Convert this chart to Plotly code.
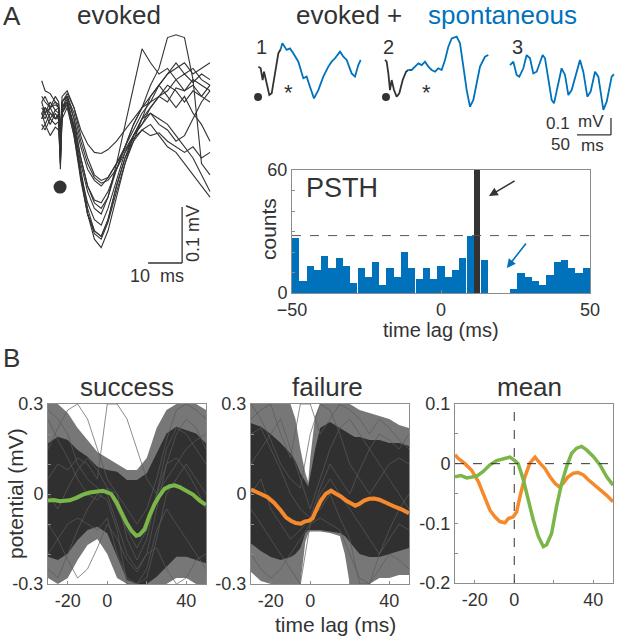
import plotly.graph_objects as go

# ---------------------------------------------------------------
# constants
# ---------------------------------------------------------------
W, H = 618, 640
FONT = "Liberation Sans, Arial, sans-serif"
INK = "#333333"
BLUE = "#0072bc"
GREEN = "#7ab648"
ORANGE = "#f7892d"
FRAME = "#8c8c8c"

# ---------------------------------------------------------------
# data, panel A: evoked sweeps (ms, mV)
# ---------------------------------------------------------------
evoked_t = [0.5, 1.5, 3, 4.5, 5.5, 6, 6.5, 8, 10, 12, 14, 16, 18, 20, 22.5, 25,
            27.5, 30, 32.5, 35, 37.5, 40, 42.5, 45, 47.5, 50]
evoked_sweeps = [
  [0.02, 0.03, 0.01, 0.03, 0.02, -0.07, 0.03, 0.05, 0.0, -0.08, -0.15, -0.195, -0.21, -0.18, -0.12, -0.06, -0.01, 0.02, 0.04, 0.06, 0.07, 0.09, 0.07, 0.08, 0.06, 0.05],
  [0.03, 0.02, 0.04, 0.02, 0.03, -0.05, 0.04, 0.055, 0.0, -0.07, -0.14, -0.18, -0.19, -0.16, -0.1, -0.05, -0.02, 0.0, 0.01, -0.01, -0.03, -0.04, -0.06, -0.08, -0.1, -0.12],
  [0.05, 0.06, 0.04, 0.06, 0.05, 0.0, 0.06, 0.07, 0.04, 0.0, -0.025, -0.04, -0.042, -0.035, -0.02, 0.0, 0.02, 0.04, 0.05, 0.06, 0.05, 0.075, 0.07, 0.09, 0.08, 0.07],
  [0.088, 0.07, 0.065, 0.05, 0.045, -0.03, 0.04, 0.05, 0.01, -0.05, -0.1, -0.125, -0.13, -0.11, -0.07, -0.03, 0.01, 0.04, 0.08, 0.11, 0.165, 0.17, 0.165, 0.09, -0.06, -0.08],
  [0.03, 0.04, 0.02, 0.035, 0.03, -0.04, 0.04, 0.05, 0.005, -0.06, -0.11, -0.14, -0.15, -0.12, -0.06, 0.01, 0.08, 0.145, 0.12, 0.1, 0.11, 0.09, 0.1, 0.085, 0.1, 0.09],
  [0.01, 0.0, 0.02, 0.01, 0.015, -0.06, 0.03, 0.045, -0.01, -0.08, -0.13, -0.16, -0.17, -0.14, -0.09, -0.04, -0.01, 0.01, 0.03, 0.02, 0.01, -0.01, -0.03, -0.05, -0.08, -0.11],
  [0.04, 0.03, 0.05, 0.035, 0.04, -0.02, 0.05, 0.06, 0.02, -0.03, -0.07, -0.09, -0.1, -0.085, -0.06, -0.03, 0.0, 0.03, 0.05, 0.08, 0.1, 0.11, 0.12, 0.1, 0.11, 0.12],
  [0.0, 0.01, -0.01, 0.005, 0.0, -0.06, 0.02, 0.04, -0.01, -0.09, -0.15, -0.18, -0.19, -0.16, -0.1, -0.05, -0.01, 0.01, 0.04, 0.06, 0.08, 0.07, 0.05, 0.07, 0.06, 0.08],
  [0.02, 0.04, 0.03, 0.02, 0.025, -0.03, 0.04, 0.06, 0.03, -0.02, -0.06, -0.085, -0.095, -0.09, -0.07, -0.04, -0.015, 0.0, -0.01, -0.005, -0.02, -0.03, -0.04, -0.03, -0.05, -0.04],
  [0.05, 0.03, 0.04, 0.045, 0.04, -0.03, 0.05, 0.06, 0.02, -0.05, -0.1, -0.13, -0.14, -0.12, -0.07, -0.03, 0.01, 0.04, 0.06, 0.08, 0.06, 0.04, 0.06, 0.03, 0.01, -0.02],
  [0.03, 0.01, 0.03, 0.02, 0.02, -0.05, 0.035, 0.05, 0.0, -0.085, -0.15, -0.185, -0.195, -0.165, -0.11, -0.06, -0.02, 0.02, 0.06, 0.08, 0.1, 0.12, 0.1, 0.11, 0.09, 0.08],
  [0.06, 0.05, 0.04, 0.05, 0.04, -0.01, 0.05, 0.065, 0.04, -0.01, -0.05, -0.08, -0.09, -0.085, -0.06, -0.035, -0.01, 0.02, 0.03, 0.01, 0.0, -0.02, -0.01, 0.02, 0.05, 0.07],
]
stim_t, stim_v = 5.9, -0.102

# evoked + spontaneous examples (ms, mV)
ex1_black_t = [2, 5.4, 8.3, 10.3, 14.2, 18.1, 21.6, 26.5, 31.4, 34.8]
ex1_black_v = [0.02, 0.01, -0.059, -0.01, -0.078, -0.147, -0.137, -0.02, 0.098, 0.122]
ex1_blue_t = [34.8, 37.3, 43.6, 48.5, 53.4, 60.8, 68.1, 73.0, 77.9, 83.8, 90.2, 97.5,
              104.9, 109.8, 114.7, 122.1, 127.0, 131.9, 139.2, 144.1, 149.0, 152.5]
ex1_blue_v = [0.122, 0.157, 0.118, 0.127, 0.098, 0.049, -0.049, -0.039, -0.098, -0.167, -0.118, -0.039,
              0.02, 0.049, 0.069, 0.108, 0.078, 0.059, -0.02, -0.039, 0.029, 0.059]
ex2_black_t = [1.5, 3.9, 6.4, 8.8, 11.3, 14.7, 18.6, 22.5, 27.5, 32.4, 35.8]
ex2_black_v = [0.059, 0.049, -0.02, -0.118, -0.059, -0.118, -0.157, -0.137, -0.059, -0.01, 0.0]
ex2_blue_t = [35.8, 40.7, 45.6, 50.5, 55.4, 60.3, 65.2, 70.1, 75.0, 79.9, 84.8, 89.7, 94.6,
              99.5, 106.9, 111.8, 116.7, 121.6, 126.5, 131.4, 136.3, 141.2, 148.5, 153.4]
ex2_blue_v = [0.0, 0.0, 0.02, 0.039, 0.029, 0.049, 0.02, 0.0, -0.01, 0.01, 0.0, 0.059, 0.137,
              0.186, 0.196, 0.157, 0.02, -0.118, -0.216, -0.176, -0.078, 0.02, 0.078, 0.088]
ex3_t = [0, 4.9, 9.8, 13.7, 19.6, 24.5, 29.4, 34.3, 39.2, 44.1, 48.0, 51.5, 56.4, 61.3, 64.7, 71.0,
         75.9, 80.9, 85.8, 90.7, 98.0, 102.9, 107.8, 113.7, 118.6, 125.0, 129.9, 137.3, 142.2, 149.5, 152.9]
ex3_v = [0.029, 0.049, -0.029, -0.039, 0.01, 0.088, 0.069, -0.02, -0.01, 0.049, 0.088, 0.069, -0.049, -0.176, -0.196, -0.069,
         0.01, -0.029, -0.147, -0.118, -0.01, 0.059, -0.01, -0.157, -0.127, -0.01, -0.039, -0.235, -0.186, -0.039, -0.025]

# PSTH
psth_lag = [-48.8, -46.3, -43.9, -41.5, -39.0, -36.6, -34.1, -31.7, -29.3, -26.8, -24.4, -22.0, -19.5, -17.1,
            -14.6, -12.2, -9.8, -7.3, -4.9, -2.4, 0.0, 2.4, 4.9, 7.3, 9.8, 12.2, 14.6, 17.1, 19.5, 22.0,
            24.4, 26.8, 29.3, 31.7, 34.1, 36.6, 39.0, 41.5, 43.9, 46.3, 48.8]
psth_counts = [27, 6, 13, 11, 18, 12, 17, 13, 5, 12, 8, 15, 4, 12, 8, 20, 12, 7, 12, 7, 13, 8, 11, 17,
               28, 0, 16, 0, 0, 0, 2, 10, 8, 6, 4, 9, 15, 16, 12, 10, 12]
peak_lag, peak_count = [12.2], [60]
psth_threshold = 28

# ---------------------------------------------------------------
# data, panel B (ms, mV)
# ---------------------------------------------------------------
sweep_t = [-30, -25, -20, -15, -10, -5, 0, 5, 10, 15, 20, 25, 30, 35, 40, 45, 50]
success_core_hi = [0.169, 0.191, 0.18, 0.147, 0.124, 0.091, 0.08, 0.074, 0.047, 0.047, 0.069, 0.136, 0.202, 0.224, 0.213, 0.202, 0.169]
success_core_lo = [-0.209, -0.22, -0.198, -0.153, -0.12, -0.109, -0.131, -0.209, -0.287, -0.3, -0.3, -0.276, -0.242, -0.209, -0.209, -0.22, -0.231]
success_edge_hi = [0.3, 0.3, 0.27, 0.22, 0.18, 0.14, 0.12, 0.1, 0.08, 0.08, 0.12, 0.22, 0.28, 0.3, 0.3, 0.3, 0.28]
success_edge_lo = [-0.28, -0.3, -0.28, -0.22, -0.17, -0.15, -0.2, -0.28, -0.3, -0.3, -0.3, -0.3, -0.3, -0.28, -0.28, -0.3, -0.3]
success_sweeps = [
  [0.28, 0.25, 0.2, 0.1, 0.05, 0.02, 0.0, -0.1, -0.2, -0.25, -0.2, -0.05, 0.1, 0.2, 0.25, 0.22, 0.15],
  [-0.25, -0.28, -0.2, -0.12, -0.05, 0.0, -0.02, -0.12, -0.3, -0.3, -0.28, -0.15, 0.0, 0.05, 0.1, 0.05, 0.0],
  [0.15, 0.22, 0.28, 0.3, 0.25, 0.15, 0.05, 0.0, -0.05, -0.1, -0.05, 0.05, 0.18, 0.28, 0.3, 0.28, 0.25],
  [-0.1, -0.15, -0.22, -0.28, -0.25, -0.18, -0.1, -0.15, -0.22, -0.26, -0.2, -0.18, -0.25, -0.3, -0.28, -0.22, -0.2],
  [0.05, 0.1, 0.08, 0.12, 0.1, 0.05, 0.3, 0.3, 0.25, 0.15, 0.05, 0.0, 0.05, 0.1, 0.15, 0.18, 0.2],
  [0.0, -0.05, 0.02, 0.08, 0.12, 0.08, 0.02, -0.05, -0.12, -0.18, -0.12, 0.0, 0.1, 0.12, 0.08, 0.02, -0.05],
  [0.25, 0.18, 0.12, 0.05, 0.0, -0.02, 0.02, 0.0, -0.15, -0.22, -0.15, 0.0, 0.15, 0.22, 0.2, 0.15, 0.1],
  [-0.2, -0.15, -0.1, -0.08, -0.1, -0.12, -0.08, -0.2, -0.28, -0.3, -0.25, -0.12, -0.05, -0.1, -0.15, -0.2, -0.25],
]

fail_t = [-30, -25, -20, -15, -10, -7.5, -5, -2.5, -1, 0, 2.5, 5, 10, 15, 17.5, 20, 22.5, 25, 30, 35, 40, 45, 50]
failure_core_hi = [0.236, 0.224, 0.2, 0.17, 0.135, 0.11, 0.07, 0.04, 0.025, 0.06, 0.15, 0.22, 0.24, 0.22, 0.21, 0.2, 0.19, 0.19, 0.18, 0.18, 0.17, 0.17, 0.16]
failure_core_lo = [-0.165, -0.19, -0.21, -0.22, -0.21, -0.2, -0.18, -0.13, -0.12, -0.12, -0.12, -0.12, -0.125, -0.13, -0.14, -0.16, -0.18, -0.2, -0.21, -0.21, -0.2, -0.19, -0.18]
failure_edge_hi = [0.3, 0.3, 0.3, 0.3, 0.3, 0.25, 0.15, 0.07, 0.04, 0.12, 0.26, 0.3, 0.3, 0.3, 0.3, 0.3, 0.29, 0.28, 0.27, 0.26, 0.25, 0.23, 0.22]
failure_edge_lo = [-0.26, -0.29, -0.3, -0.3, -0.3, -0.3, -0.3, -0.16, -0.13, -0.125, -0.125, -0.125, -0.13, -0.14, -0.2, -0.3, -0.3, -0.3, -0.3, -0.28, -0.28, -0.27, -0.27]
failure_sweeps = [
  [0.3, 0.25, 0.18, 0.1, 0.05, 0.02, 0.2, 0.3, 0.28, 0.2, 0.1, 0.05, 0.0, 0.05, 0.1, 0.12, 0.1],
  [-0.2, -0.25, -0.28, -0.25, -0.2, -0.15, -0.1, -0.08, -0.1, -0.12, -0.2, -0.28, -0.3, -0.25, -0.2, -0.22, -0.25],
  [0.1, 0.15, 0.2, 0.25, 0.15, 0.05, -0.05, 0.05, 0.15, 0.22, 0.25, 0.2, 0.15, 0.1, 0.05, 0.0, -0.05],
  [-0.05, -0.1, -0.15, -0.2, -0.25, -0.3, -0.1, 0.0, 0.05, 0.0, -0.05, -0.1, -0.15, -0.2, -0.15, -0.1, -0.12],
  [0.2, 0.22, 0.15, 0.08, 0.0, -0.05, -0.08, 0.02, 0.1, 0.05, 0.0, 0.08, 0.15, 0.2, 0.18, 0.15, 0.2],
  [0.0, 0.05, -0.05, -0.1, -0.15, -0.12, -0.08, -0.05, 0.0, -0.08, -0.15, -0.3, -0.3, -0.2, -0.12, -0.05, 0.0],
  [0.25, 0.28, 0.3, 0.2, 0.12, 0.3, 0.3, 0.2, 0.25, 0.3, 0.28, 0.25, 0.2, 0.25, 0.22, 0.18, 0.15],
]

success_mean_t = [-30, -27, -24, -19, -15.7, -12.3, -8.9, -3.9, -2.2, 0.3, 2, 4.6, 7.1, 9.6, 12.2, 14.7, 16.4,
                  18.9, 21.4, 24, 26.5, 29, 31.6, 34.1, 36.6, 40, 43.4, 46.8, 50]
success_mean_v = [-0.022, -0.02, -0.024, -0.021, -0.013, -0.002, 0.005, 0.009, 0.011, 0.005, 0.0, -0.027, -0.061,
                  -0.094, -0.122, -0.139, -0.136, -0.117, -0.072, -0.033, -0.005, 0.017, 0.026, 0.029, 0.023,
                  0.012, -0.002, -0.022, -0.036]
failure_mean_t = [-30, -28.4, -25, -21.6, -18.2, -14.9, -12.3, -9.8, -7.3, -4.7, -3, -0.5, 1.2, 2.9, 5.4, 7.9, 10.5,
                  13, 15.5, 18.1, 20.6, 22.8, 24.8, 27.3, 29.9, 32.4, 35, 37.5, 40.9, 43.4, 46.8, 50]
failure_mean_v = [0.015, 0.009, 0.0, -0.011, -0.03, -0.055, -0.078, -0.089, -0.097, -0.099, -0.092, -0.089, -0.081,
                  -0.055, -0.022, 0.001, 0.011, 0.001, -0.008, -0.022, -0.033, -0.039, -0.033, -0.022, -0.016,
                  -0.015, -0.019, -0.027, -0.036, -0.044, -0.053, -0.064]


# ---------------------------------------------------------------
# helpers (pixel positions -> paper fractions)
# ---------------------------------------------------------------
def xdom(a, b):
  return [a / W, b / W]

def ydom(top, bottom):
  return [1 - bottom / H, 1 - top / H]

def text(s, px, py, size, color=INK, angle=0, xanchor='center'):
  return dict(text=s, x=px / W, y=1 - py / H, xref='paper', yref='paper', showarrow=False,
              font=dict(family=FONT, size=size, color=color), textangle=angle,
              xanchor=xanchor, yanchor='middle')

def line(xa, ya, x, y, color, width, dash=None):
  return go.Scatter(x=x, y=y, xaxis=xa, yaxis=ya, mode='lines', hoverinfo='skip',
                    line=dict(color=color, width=width, dash=dash))

def band(xa, ya, t, hi, lo, color):
  return [go.Scatter(x=t, y=hi, xaxis=xa, yaxis=ya, mode='lines', line=dict(width=0), hoverinfo='skip'),
          go.Scatter(x=t, y=lo, xaxis=xa, yaxis=ya, mode='lines', line=dict(width=0), hoverinfo='skip',
                     fill='tonexty', fillcolor=color)]

fig = go.Figure()

# evoked sweeps
for sweep in evoked_sweeps:
  fig.add_trace(line('x', 'y', evoked_t, sweep, INK, 1.1))
fig.add_trace(go.Scatter(x=[stim_t], y=[stim_v], xaxis='x', yaxis='y', mode='markers',
                         marker=dict(color=INK, size=13)))

# three examples
fig.add_trace(line('x2', 'y2', ex1_black_t, ex1_black_v, INK, 1.8))
fig.add_trace(line('x2', 'y2', ex1_blue_t, ex1_blue_v, BLUE, 1.8))
fig.add_trace(line('x3', 'y3', ex2_black_t, ex2_black_v, INK, 1.8))
fig.add_trace(line('x3', 'y3', ex2_blue_t, ex2_blue_v, BLUE, 1.8))
fig.add_trace(line('x4', 'y4', ex3_t, ex3_v, BLUE, 1.8))
fig.add_trace(go.Scatter(x=[1.5], y=[-0.159], xaxis='x2', yaxis='y2', mode='markers', marker=dict(color=INK, size=8)))
fig.add_trace(go.Scatter(x=[2.9], y=[-0.159], xaxis='x3', yaxis='y3', mode='markers', marker=dict(color=INK, size=8)))

# PSTH
fig.add_trace(go.Bar(x=psth_lag, y=psth_counts, xaxis='x5', yaxis='y5', width=2.44,
                     marker=dict(color=BLUE, line=dict(width=0))))
fig.add_trace(go.Bar(x=peak_lag, y=peak_count, xaxis='x5', yaxis='y5', width=2.0,
                     marker=dict(color=INK, line=dict(width=0))))

# success / failure clouds
for xa, ya, t, ehi, elo, chi, clo, sweeps, mt, mv, col in [
    ('x6', 'y6', sweep_t, success_edge_hi, success_edge_lo, success_core_hi, success_core_lo,
     success_sweeps, success_mean_t, success_mean_v, GREEN),
    ('x7', 'y7', fail_t, failure_edge_hi, failure_edge_lo, failure_core_hi, failure_core_lo,
     failure_sweeps, failure_mean_t, failure_mean_v, ORANGE)]:
  for tr in band(xa, ya, t, ehi, elo, 'rgba(55,55,55,0.68)'):
    fig.add_trace(tr)
  for tr in band(xa, ya, t, chi, clo, 'rgba(45,45,45,0.96)'):
    fig.add_trace(tr)
  for sweep in sweeps:
    fig.add_trace(line(xa, ya, sweep_t, sweep, '#5a5a5a', 0.7))
  fig.add_trace(line(xa, ya, mt, mv, col, 4))

# mean
fig.add_trace(line('x8', 'y8', failure_mean_t, failure_mean_v, ORANGE, 3.5))
fig.add_trace(line('x8', 'y8', success_mean_t, success_mean_v, GREEN, 3.5))

# ---------------------------------------------------------------
# axes
# ---------------------------------------------------------------
hidden = dict(visible=False, showgrid=False, zeroline=False, fixedrange=True, automargin=False)
tickfont = dict(family=FONT, size=18, color=INK)
boxed = dict(showline=True, mirror=True, linecolor=FRAME, linewidth=1, showgrid=False, zeroline=False,
             ticks='inside', ticklen=3, tickcolor=FRAME, tickfont=tickfont, automargin=False)

layout = dict(
  template='none',
  width=W, height=H, margin=dict(l=0, r=0, t=0, b=0, pad=0, autoexpand=False),
  paper_bgcolor='white', plot_bgcolor='rgba(0,0,0,0)', showlegend=False,
  barmode='overlay', bargap=0,
  xaxis=dict(hidden, domain=xdom(36, 220), range=[-4 / 3.4, 180 / 3.4], anchor='y'),
  yaxis=dict(hidden, domain=ydom(25, 285), range=[-155 / 560, 105 / 560], anchor='x'),
  xaxis2=dict(hidden, domain=xdom(250, 372), range=[-7 / 0.68, 115 / 0.68], anchor='y2'),
  yaxis2=dict(hidden, domain=ydom(30, 140), range=[-70 / 170, 40 / 170], anchor='x2'),
  xaxis3=dict(hidden, domain=xdom(378, 500), range=[-6 / 0.68, 116 / 0.68], anchor='y3'),
  yaxis3=dict(hidden, domain=ydom(30, 140), range=[-70 / 170, 40 / 170], anchor='x3'),
  xaxis4=dict(hidden, domain=xdom(503, 617), range=[-7 / 0.68, 107 / 0.68], anchor='y4'),
  yaxis4=dict(hidden, domain=ydom(30, 140), range=[-70 / 170, 40 / 170], anchor='x4'),
  xaxis5=dict(boxed, domain=xdom(292, 590), range=[-50, 50], anchor='y5', tickvals=[-50, 0, 50]),
  yaxis5=dict(boxed, domain=ydom(170, 293), range=[0, 60], anchor='x5',
              tickvals=[0, 10, 20, 30, 40, 50, 60], ticktext=['0', '', '', '', '', '', '60']),
)
for i, (x0, x1) in zip([6, 7], [(48, 206), (251, 409)]):
  layout['xaxis%d' % i] = dict(boxed, domain=xdom(x0, x1), range=[-30, 50], anchor='y%d' % i,
                               tickvals=[-20, 0, 20, 40], ticktext=['-20', '0', '', '40'])
  layout['yaxis%d' % i] = dict(boxed, domain=ydom(404, 584), range=[-0.3, 0.3], anchor='x%d' % i,
                               tickvals=[-0.3, -0.2, -0.1, 0, 0.1, 0.2, 0.3],
                               ticktext=['-0.3', '', '', '0', '', '', '0.3'])
layout['xaxis8'] = dict(boxed, domain=xdom(455, 613), range=[-30, 50], anchor='y8',
                        tickvals=[-20, 0, 20, 40], ticktext=['-20', '0', '', '40'])
layout['yaxis8'] = dict(boxed, domain=ydom(404, 583), range=[-0.2, 0.1], anchor='x8',
                        tickvals=[-0.2, -0.15, -0.1, -0.05, 0, 0.05, 0.1],
                        ticktext=['-0.2', '', '-0.1', '', '0', '', '0.1'])
fig.update_layout(**layout)

# ---------------------------------------------------------------
# scale bars, reference lines
# ---------------------------------------------------------------
shapes = [
  # evoked: 10 ms / 0.1 mV
  dict(type='line', xref='x', yref='y', x0=41.8, x1=41.8, y0=-0.1375, y1=-0.2375, line=dict(color=INK, width=1.3)),
  dict(type='line', xref='x', yref='y', x0=31.8, x1=41.8, y0=-0.2375, y1=-0.2375, line=dict(color=INK, width=1.3)),
  # examples: 50 ms / 0.1 mV
  dict(type='line', xref='x4', yref='y4', x0=148.5, x1=148.5, y0=-0.282, y1=-0.382, line=dict(color=INK, width=1.3)),
  dict(type='line', xref='x4', yref='y4', x0=98.5, x1=148.5, y0=-0.382, y1=-0.382, line=dict(color=INK, width=1.3)),
  # PSTH significance level
  dict(type='line', xref='x5', yref='y5', x0=-50, x1=50, y0=psth_threshold, y1=psth_threshold,
       line=dict(color='#555555', width=1, dash='dash')),
  # mean zero lines
  dict(type='line', xref='x8', yref='y8', x0=-30, x1=50, y0=0, y1=0, line=dict(color=INK, width=1, dash='dash')),
  dict(type='line', xref='x8', yref='y8', x0=0, x1=0, y0=-0.2, y1=0.1, line=dict(color=INK, width=1, dash='dash')),
]
fig.update_layout(shapes=shapes)

annotations = [
  text('A', 12, 16, 26),
  text('evoked', 119, 15, 26),
  text('evoked +', 349, 15, 26),
  text('spontaneous', 502, 15, 26, BLUE),
  text('1', 261, 47, 20), text('2', 388, 47, 20), text('3', 517, 47, 20),
  text('*', 288, 92, 22), text('*', 427, 92, 22),
  text('0.1', 558, 124, 17), text('mV', 591, 121, 17),
  text('50', 560, 144, 17), text('ms', 592, 145, 17),
  text('10  ms', 157, 276, 18),
  text('0.1 mV', 193, 234, 18, angle=-90),
  text('PSTH', 342, 188, 27),
  text('counts', 268, 229, 21, angle=-90),
  text('time lag (ms)', 441, 330, 20),
  text('B', 11, 358, 26),
  text('success', 127, 387, 26),
  text('failure', 327, 387, 26),
  text('mean', 529, 387, 26),
  text('potential (mV)', 15, 494, 21, angle=-90),
  text('time lag (ms)', 335, 624, 21),
  # PSTH arrows
  dict(x=16.1, y=47.3, ax=25.2, ay=55.1, xref='x5', yref='y5', axref='x5', ayref='y5', text='',
       showarrow=True, arrowhead=2, arrowsize=1.1, arrowwidth=1.6, arrowcolor=INK),
  dict(x=22.1, y=12.2, ax=28.9, ay=24.9, xref='x5', yref='y5', axref='x5', ayref='y5', text='',
       showarrow=True, arrowhead=2, arrowsize=1.1, arrowwidth=1.6, arrowcolor=BLUE),
]
fig.update_layout(annotations=annotations)

# page margin off so the 618x640 figure sits flush in the window
fig.write_html("out.html", config={'displayModeBar': False},
               post_script="document.body.style.margin='0';document.body.style.overflow='hidden';")
